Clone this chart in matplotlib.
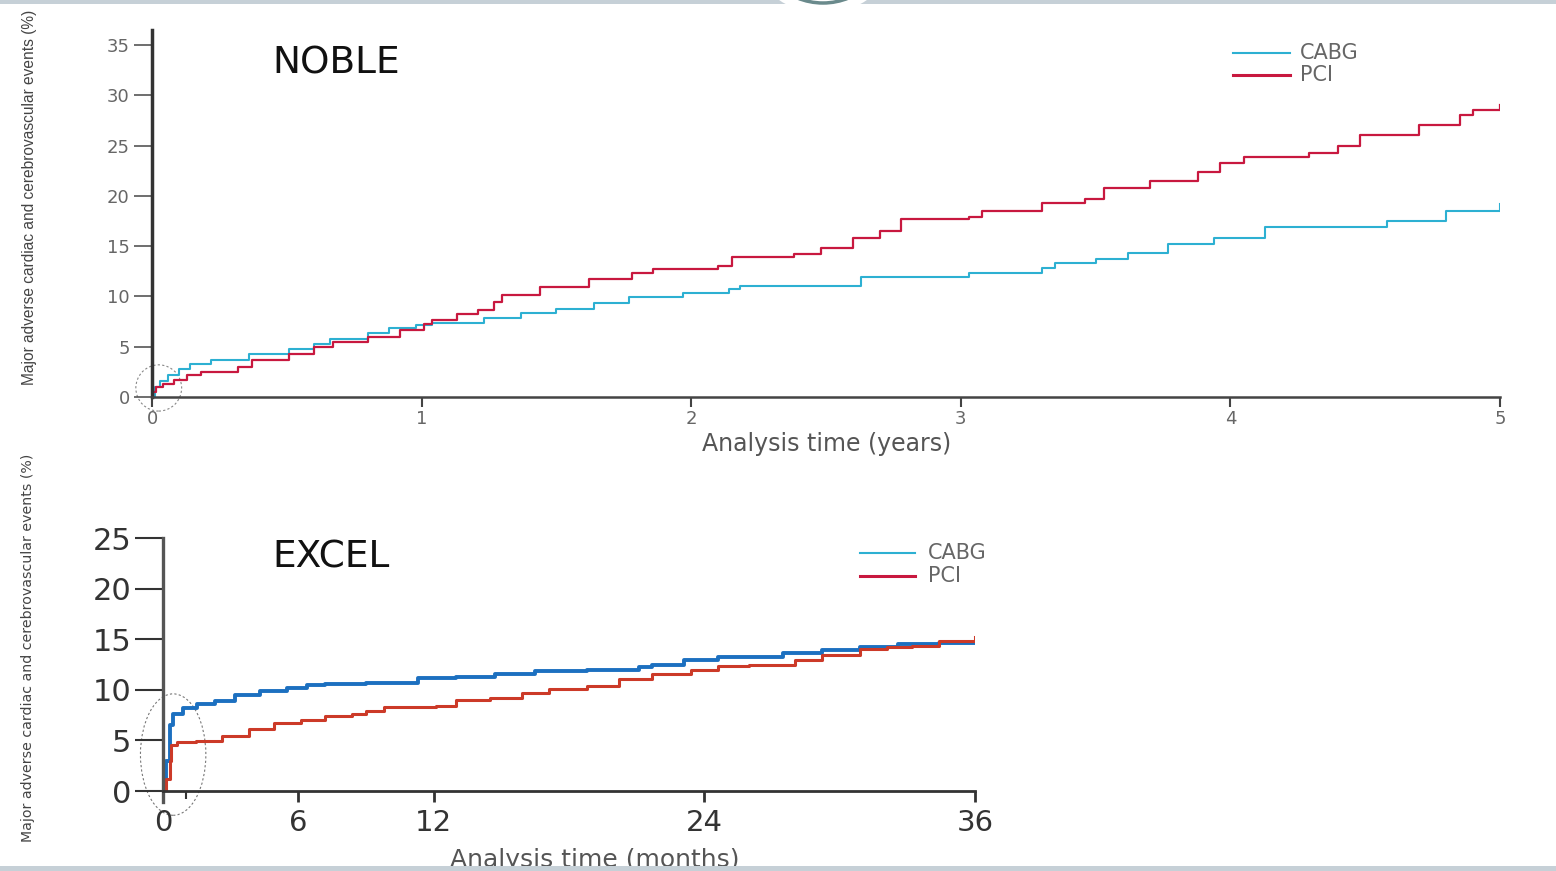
import matplotlib
matplotlib.use("Agg")
import matplotlib.pyplot as plt
from matplotlib.patches import Ellipse, Circle, Rectangle

# NOBLE (years)
noble_cabg_t = [0, 0.01, 0.03, 0.06, 0.10, 0.14, 0.22, 0.36, 0.51, 0.60, 0.66, 0.80, 0.88, 0.98, 1.04,
                1.23, 1.37, 1.50, 1.64, 1.77, 1.97, 2.14, 2.18, 2.63, 3.03, 3.30, 3.35, 3.50, 3.62,
                3.77, 3.94, 4.13, 4.58, 4.80, 5.0]
noble_cabg_v = [0, 1.0, 1.6, 2.2, 2.8, 3.3, 3.7, 4.3, 4.8, 5.3, 5.8, 6.4, 6.9, 7.2, 7.4,
                7.9, 8.4, 8.8, 9.3, 9.9, 10.3, 10.7, 11.0, 11.9, 12.3, 12.8, 13.3, 13.7, 14.3,
                15.2, 15.8, 16.9, 17.5, 18.5, 19.2]
noble_pci_t = [0, 0.005, 0.015, 0.04, 0.08, 0.13, 0.18, 0.32, 0.37, 0.51, 0.60, 0.67, 0.80, 0.92,
               1.01, 1.04, 1.13, 1.21, 1.27, 1.30, 1.44, 1.62, 1.78, 1.86, 2.10, 2.15, 2.38, 2.48,
               2.60, 2.70, 2.78, 3.03, 3.08, 3.30, 3.46, 3.53, 3.70, 3.88, 3.96, 4.05, 4.29, 4.40,
               4.48, 4.70, 4.85, 4.90, 5.0]
noble_pci_v = [0, 0.5, 1.0, 1.3, 1.7, 2.2, 2.5, 3.0, 3.7, 4.3, 5.0, 5.5, 6.0, 6.7,
               7.3, 7.7, 8.3, 8.7, 9.4, 10.1, 10.9, 11.7, 12.3, 12.7, 13.0, 13.9, 14.2, 14.8,
               15.8, 16.5, 17.7, 17.9, 18.5, 19.3, 19.7, 20.8, 21.5, 22.4, 23.3, 23.9, 24.3, 25.0,
               26.1, 27.1, 28.0, 28.5, 29.0]

# EXCEL (months)
excel_cabg_t = [0, 0.15, 0.3, 0.45, 0.9, 1.5, 2.3, 3.2, 4.3, 5.5, 6.4, 7.2, 9.0, 10.7, 11.3, 13.0,
                14.7, 16.5, 18.8, 19.9, 21.1, 21.7, 23.1, 24.6, 26.0, 27.5, 29.2, 30.9, 32.6, 34.4, 36]
excel_cabg_v = [0, 3.0, 6.5, 7.6, 8.2, 8.6, 8.9, 9.5, 9.9, 10.2, 10.5, 10.6, 10.7, 10.7, 11.2, 11.3,
                11.55, 11.9, 12.0, 12.0, 12.3, 12.5, 12.95, 13.2, 13.2, 13.6, 13.95, 14.2, 14.5, 14.6, 14.6]
excel_pci_t = [0, 0.15, 0.3, 0.35, 0.6, 1.45, 2.6, 3.8, 4.9, 6.1, 7.2, 8.4, 9.0, 9.8, 11.3, 12.1,
               13.0, 14.5, 15.9, 17.1, 18.8, 20.2, 21.7, 23.4, 24.6, 26.0, 28.0, 29.2, 30.9, 32.1,
               33.2, 34.4, 36]
excel_pci_v = [0, 1.2, 3.0, 4.5, 4.8, 4.95, 5.45, 6.1, 6.75, 7.0, 7.4, 7.6, 7.9, 8.3, 8.3, 8.4,
               9.0, 9.2, 9.7, 10.1, 10.4, 11.05, 11.55, 12.0, 12.4, 12.45, 12.9, 13.4, 14.0, 14.2,
               14.35, 14.85, 15.2]

noble_xticks = [0, 1, 2, 3, 4, 5]
noble_yticks = [0, 5, 10, 15, 20, 25, 30, 35]
excel_xticks = [0, 6, 12, 24, 36]
excel_yticks = [0, 5, 10, 15, 20, 25]

ylabel = "Major adverse cardiac and cerebrovascular events (%)"

W, H = 1556, 871
fig = plt.figure(figsize=(W / 100, H / 100), dpi=100)


def fx(px):
    return px / W


def fy(py):
    return 1 - py / H


# ---- NOBLE ----
ax1 = fig.add_axes([fx(152), fy(397), fx(1500 - 152), (397 - 30) / H])
ax1.step(noble_cabg_t, noble_cabg_v, where="post", color="#2db0d2", lw=1.5)
ax1.step(noble_pci_t, noble_pci_v, where="post", color="#c8183f", lw=1.6)
ax1.set_xlim(0, 5)
ax1.set_ylim(0, 36.5)
ax1.set_xticks(noble_xticks)
ax1.set_yticks(noble_yticks)
ax1.tick_params(axis="y", length=13, width=1.2, color="#555555", labelsize=13,
                labelcolor="#666666", pad=3)
ax1.tick_params(axis="x", length=7, width=1.5, color="#444444", labelsize=13,
                labelcolor="#666666", pad=2)
for s in ["top", "right"]:
    ax1.spines[s].set_visible(False)
ax1.spines["left"].set_linewidth(2.5)
ax1.spines["left"].set_color("#333333")
ax1.spines["bottom"].set_linewidth(1.8)
ax1.spines["bottom"].set_color("#444444")
ax1.add_patch(Ellipse((0.025, 0.9), 0.17, 4.6, fill=False, ls=(0, (2, 2)), lw=0.8,
                      ec="#888888", clip_on=False))

fig.text(fx(272), fy(64), "NOBLE", fontsize=27, color="#111111", va="center", ha="left")
fig.text(fx(827), fy(444), "Analysis time (years)", fontsize=17, color="#555555",
         ha="center", va="center")
fig.text(fx(30), fy(197), ylabel, rotation=90, fontsize=11.2, color="#444444",
         ha="center", va="center", family=["Liberation Sans", "DejaVu Sans"])

# legend NOBLE
fig.add_artist(plt.Line2D([fx(1233), fx(1290)], [fy(53), fy(53)], color="#2db0d2", lw=1.5))
fig.add_artist(plt.Line2D([fx(1233), fx(1290)], [fy(75), fy(75)], color="#c8183f", lw=2.2))
fig.text(fx(1300), fy(53), "CABG", fontsize=15, color="#666666", va="center")
fig.text(fx(1300), fy(75), "PCI", fontsize=15, color="#666666", va="center")

# ---- EXCEL ----
ax2 = fig.add_axes([fx(163), fy(791), fx(975 - 163), (791 - 538) / H])
ax2.step(excel_cabg_t, excel_cabg_v, where="post", color="#1c70c0", lw=2.8)
ax2.step(excel_pci_t, excel_pci_v, where="post", color="#cc3a28", lw=2.2)
ax2.set_xlim(0, 36)
ax2.set_ylim(0, 25)
ax2.set_xticks(excel_xticks)
ax2.set_xticks([1], minor=True)
ax2.set_yticks(excel_yticks)
ax2.tick_params(axis="y", length=20, width=1.5, color="#333333", labelsize=22,
                labelcolor="#333333", pad=3)
ax2.tick_params(axis="x", length=8, width=2, color="#333333", labelsize=21,
                labelcolor="#333333", pad=5)
ax2.tick_params(axis="x", which="minor", length=6, width=1.5, color="#333333")
for s in ["top", "right"]:
    ax2.spines[s].set_visible(False)
ax2.spines["left"].set_linewidth(2.4)
ax2.spines["left"].set_color("#555555")
ax2.spines["left"].set_bounds(-1.1, 25)
ax2.spines["bottom"].set_linewidth(2)
ax2.spines["bottom"].set_color("#333333")
ax2.add_patch(Ellipse((0.45, 3.6), 2.9, 12.0, fill=False, ls=(0, (2, 2)), lw=0.8,
                      ec="#777777", clip_on=False))

fig.text(fx(272), fy(558), "EXCEL", fontsize=27, color="#111111", va="center", ha="left")
fig.text(fx(595), fy(860), "Analysis time (months)", fontsize=18, color="#555555",
         ha="center", va="center")
fig.text(fx(28), fy(648), ylabel, rotation=90, fontsize=10.2, color="#444444",
         ha="center", va="center")

fig.add_artist(plt.Line2D([fx(860), fx(915)], [fy(553), fy(553)], color="#2db0d2", lw=1.5))
fig.add_artist(plt.Line2D([fx(860), fx(915)], [fy(576), fy(576)], color="#c8183f", lw=2.2))
fig.text(fx(928), fy(553), "CABG", fontsize=15, color="#666666", va="center")
fig.text(fx(928), fy(576), "PCI", fontsize=15, color="#666666", va="center")

# slide decoration: bands and top circle
fig.add_artist(Rectangle((0, fy(4)), 1, 4 / H, transform=fig.transFigure,
                         fc="#c6d0d7", ec="none", zorder=5))
fig.add_artist(Rectangle((0, 0), 1, 5 / H, transform=fig.transFigure,
                         fc="#c6d0d7", ec="none", zorder=5))
fig.add_artist(Circle((8.23, (H + 65) / 100), 0.785, transform=fig.dpi_scale_trans,
                      fc="white", ec="none", zorder=6))
fig.add_artist(Circle((8.23, (H + 65) / 100), 0.68, transform=fig.dpi_scale_trans,
                      fc="white", ec="#6a8a8c", lw=2.5, zorder=7))

fig.savefig("out.png", dpi=100)
